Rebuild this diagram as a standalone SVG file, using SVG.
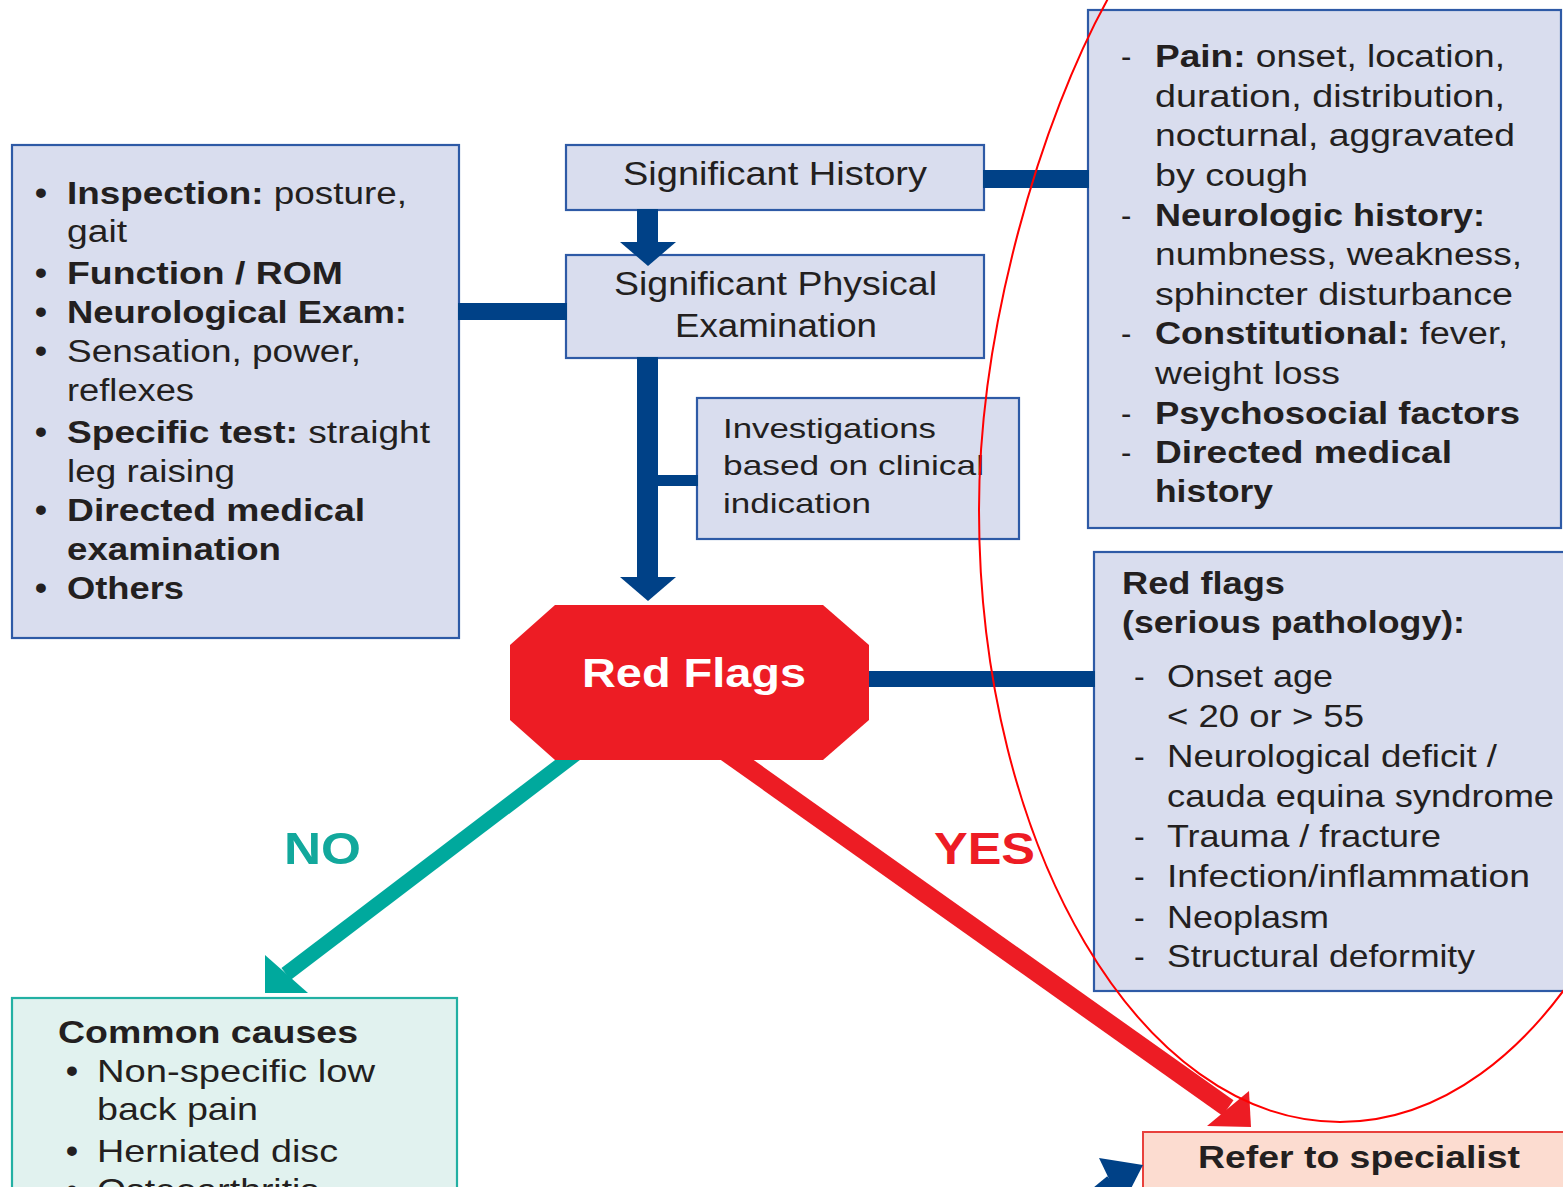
<svg xmlns="http://www.w3.org/2000/svg" width="1563" height="1187" viewBox="0 0 1563 1187">
  <style>
    .box { fill: #d9ddee; stroke: #2e5aa6; stroke-width: 2.2; }
    .mint { fill: #e1f2ef; stroke: #22b0a3; stroke-width: 2.2; }
    .peach { fill: #fcdcd0; stroke: #e8413c; stroke-width: 2; }
    .t { font-family: "Liberation Sans", Arial, Helvetica, sans-serif; fill: #231f20; }
    .b { font-weight: bold; }
    .s31 { font-size: 31px; }
    .s32 { font-size: 32px; }
    .s33 { font-size: 33px; }
    .s28 { font-size: 28.5px; }
    .bul { font-family: "Liberation Sans", Arial, sans-serif; font-size: 34px; font-weight: bold; fill: #231f20; }
    .bar { fill: #004187; }
    .no { fill: #00a99d; }
    .yes { fill: #ed1c24; }
  </style>

  <rect width="1563" height="1187" fill="#ffffff"/>

  <!-- Physical examination details -->
  <g id="exam-details">
    <rect class="box" x="12" y="145" width="447" height="493"/>
    <g class="bul">
      <text x="35" y="204">•</text>
      <text x="35" y="284">•</text>
      <text x="35" y="323">•</text>
      <text x="35" y="362">•</text>
      <text x="35" y="443">•</text>
      <text x="35" y="521">•</text>
      <text x="35" y="599">•</text>
    </g>
    <g class="t s31">
      <text x="67" y="204" textLength="340" lengthAdjust="spacingAndGlyphs"><tspan class="b">Inspection:</tspan> posture,</text>
      <text x="67" y="242" textLength="60" lengthAdjust="spacingAndGlyphs">gait</text>
      <text x="67" y="284" class="b" textLength="276" lengthAdjust="spacingAndGlyphs">Function / ROM</text>
      <text x="67" y="323" class="b" textLength="340" lengthAdjust="spacingAndGlyphs">Neurological Exam:</text>
      <text x="67" y="362" textLength="294" lengthAdjust="spacingAndGlyphs">Sensation, power,</text>
      <text x="67" y="401" textLength="127" lengthAdjust="spacingAndGlyphs">reflexes</text>
      <text x="67" y="443" textLength="363" lengthAdjust="spacingAndGlyphs"><tspan class="b">Specific test:</tspan> straight</text>
      <text x="67" y="482" textLength="168" lengthAdjust="spacingAndGlyphs">leg raising</text>
      <text x="67" y="521" class="b" textLength="298" lengthAdjust="spacingAndGlyphs">Directed medical</text>
      <text x="67" y="560" class="b" textLength="214" lengthAdjust="spacingAndGlyphs">examination</text>
      <text x="67" y="599" class="b" textLength="117" lengthAdjust="spacingAndGlyphs">Others</text>
    </g>
  </g>

  <!-- Significant history -->
  <g id="history">
    <rect class="box" x="566" y="145" width="418" height="65"/>
    <text class="t s33" x="623" y="185" textLength="304" lengthAdjust="spacingAndGlyphs">Significant History</text>
  </g>

  <!-- Significant physical examination -->
  <g id="physical">
    <rect class="box" x="566" y="255" width="418" height="103"/>
    <text class="t s33" x="614" y="295" textLength="323" lengthAdjust="spacingAndGlyphs">Significant Physical</text>
    <text class="t s33" x="675" y="337" textLength="202" lengthAdjust="spacingAndGlyphs">Examination</text>
  </g>

  <!-- Investigations -->
  <g id="investigations">
    <rect class="box" x="697" y="398" width="322" height="141"/>
    <g class="t s28">
      <text x="723" y="438" textLength="213" lengthAdjust="spacingAndGlyphs">Investigations</text>
      <text x="723" y="475" textLength="261" lengthAdjust="spacingAndGlyphs">based on clinical</text>
      <text x="723" y="513" textLength="148" lengthAdjust="spacingAndGlyphs">indication</text>
    </g>
  </g>

  <!-- History details -->
  <g id="history-details">
    <rect class="box" x="1088" y="10" width="473" height="518"/>
    <g class="t s31">
      <text x="1121" y="67">-</text>
      <text x="1121" y="226">-</text>
      <text x="1121" y="344">-</text>
      <text x="1121" y="424">-</text>
      <text x="1121" y="463">-</text>
      <text x="1155" y="67" textLength="350" lengthAdjust="spacingAndGlyphs"><tspan class="b">Pain:</tspan> onset, location,</text>
      <text x="1155" y="107" textLength="350" lengthAdjust="spacingAndGlyphs">duration, distribution,</text>
      <text x="1155" y="146" textLength="360" lengthAdjust="spacingAndGlyphs">nocturnal, aggravated</text>
      <text x="1155" y="186" textLength="153" lengthAdjust="spacingAndGlyphs">by cough</text>
      <text x="1155" y="226" class="b" textLength="330" lengthAdjust="spacingAndGlyphs">Neurologic history:</text>
      <text x="1155" y="265" textLength="367" lengthAdjust="spacingAndGlyphs">numbness, weakness,</text>
      <text x="1155" y="305" textLength="358" lengthAdjust="spacingAndGlyphs">sphincter disturbance</text>
      <text x="1155" y="344" textLength="353" lengthAdjust="spacingAndGlyphs"><tspan class="b">Constitutional:</tspan> fever,</text>
      <text x="1155" y="384" textLength="185" lengthAdjust="spacingAndGlyphs">weight loss</text>
      <text x="1155" y="424" class="b" textLength="365" lengthAdjust="spacingAndGlyphs">Psychosocial factors</text>
      <text x="1155" y="463" class="b" textLength="297" lengthAdjust="spacingAndGlyphs">Directed medical</text>
      <text x="1155" y="502" class="b" textLength="118" lengthAdjust="spacingAndGlyphs">history</text>
    </g>
  </g>

  <!-- Red flag list -->
  <g id="red-flag-list">
    <rect class="box" x="1094" y="552" width="480" height="439"/>
    <g class="t s31 b">
      <text x="1122" y="594" textLength="163" lengthAdjust="spacingAndGlyphs">Red flags</text>
      <text x="1122" y="633" textLength="343" lengthAdjust="spacingAndGlyphs">(serious pathology):</text>
    </g>
    <g class="t s32">
      <text x="1134" y="687">-</text>
      <text x="1134" y="767">-</text>
      <text x="1134" y="847">-</text>
      <text x="1134" y="887">-</text>
      <text x="1134" y="928">-</text>
      <text x="1134" y="967">-</text>
      <text x="1167" y="687" textLength="166" lengthAdjust="spacingAndGlyphs">Onset age</text>
      <text x="1167" y="727" textLength="197" lengthAdjust="spacingAndGlyphs">&lt; 20 or &gt; 55</text>
      <text x="1167" y="767" textLength="330" lengthAdjust="spacingAndGlyphs">Neurological deficit /</text>
      <text x="1167" y="807" textLength="387" lengthAdjust="spacingAndGlyphs">cauda equina syndrome</text>
      <text x="1167" y="847" textLength="274" lengthAdjust="spacingAndGlyphs">Trauma / fracture</text>
      <text x="1167" y="887" textLength="363" lengthAdjust="spacingAndGlyphs">Infection/inflammation</text>
      <text x="1167" y="928" textLength="162" lengthAdjust="spacingAndGlyphs">Neoplasm</text>
      <text x="1167" y="967" textLength="308" lengthAdjust="spacingAndGlyphs">Structural deformity</text>
    </g>
  </g>

  <!-- Common causes (list continues below the visible area) -->
  <g id="common-causes">
    <rect class="mint" x="12" y="998" width="445" height="220"/>
    <text class="t s31 b" x="58" y="1043" textLength="300" lengthAdjust="spacingAndGlyphs">Common causes</text>
    <g class="bul">
      <text x="66" y="1082">•</text>
      <text x="66" y="1162">•</text>
      <text x="66" y="1201">•</text>
    </g>
    <g class="t s32">
      <text x="97" y="1082" textLength="278" lengthAdjust="spacingAndGlyphs">Non-specific low</text>
      <text x="97" y="1120" textLength="161" lengthAdjust="spacingAndGlyphs">back pain</text>
      <text x="97" y="1162" textLength="241" lengthAdjust="spacingAndGlyphs">Herniated disc</text>
      <text x="97" y="1201" textLength="222" lengthAdjust="spacingAndGlyphs">Osteoarthritis</text>
    </g>
  </g>

  <!-- Referral -->
  <g id="refer">
    <rect class="peach" x="1143" y="1132" width="440" height="100"/>
    <text class="t s31 b" x="1198" y="1168" textLength="322" lengthAdjust="spacingAndGlyphs">Refer to specialist</text>
  </g>

  <!-- Connectors -->
  <g id="connectors">
    <!-- history -> physical -->
    <rect class="bar" x="637" y="209" width="21" height="34"/>
    <polygon class="bar" points="620,242 676,242 648,266"/>
    <!-- exam details bar -->
    <rect class="bar" x="458" y="303" width="109" height="17"/>
    <!-- history details bar -->
    <rect class="bar" x="983" y="170" width="106" height="18"/>
    <!-- physical -> red flags -->
    <rect class="bar" x="637" y="357" width="21" height="221"/>
    <polygon class="bar" points="620,577 676,577 648,601"/>
    <!-- investigations branch -->
    <rect class="bar" x="657" y="475" width="41" height="11"/>
    <!-- red flags -> list -->
    <rect class="bar" x="865" y="671" width="230" height="16"/>
    <!-- NO branch -->
    <line x1="578" y1="752" x2="286" y2="974" stroke="#00a99d" stroke-width="15"/>
    <polygon class="no" points="265,955 265,993 308,993"/>
    <!-- YES branch -->
    <line x1="726" y1="752" x2="1228" y2="1108" stroke="#ed1c24" stroke-width="19"/>
    <polygon class="yes" points="1249,1091 1251,1127 1207,1126"/>
    <!-- incoming referral arrow -->
    <line x1="1060" y1="1225" x2="1112" y2="1182" stroke="#004187" stroke-width="15"/>
    <polygon class="bar" points="1099,1158 1143,1165 1122,1206"/>
  </g>

  <!-- Red flags decision -->
  <g id="red-flags">
    <polygon points="555,605 823,605 869,645 869,720 823,760 555,760 510,720 510,645" fill="#ed1c24"/>
    <text x="582" y="687" font-family="Liberation Sans, Arial, sans-serif" font-size="41" font-weight="bold" fill="#ffffff" textLength="224" lengthAdjust="spacingAndGlyphs">Red Flags</text>
  </g>

  <!-- Branch labels -->
  <text x="284" y="864" font-family="Liberation Sans, Arial, sans-serif" font-size="45" font-weight="bold" fill="#12a89c" textLength="77" lengthAdjust="spacingAndGlyphs">NO</text>
  <text x="934" y="864" font-family="Liberation Sans, Arial, sans-serif" font-size="45" font-weight="bold" fill="#ed1c24" textLength="101" lengthAdjust="spacingAndGlyphs">YES</text>

  <!-- Hand-drawn highlight loop -->
  <path d="M 1110 -5 C 1040 120, 979 330, 979 510 C 979 848, 1141 1122, 1340 1122 C 1540 1122, 1700 848, 1700 510 C 1700 200, 1640 -100, 1400 -100 C 1250 -100, 1150 -60, 1110 -5 Z" fill="none" stroke="#ff0000" stroke-width="2"/>
</svg>
